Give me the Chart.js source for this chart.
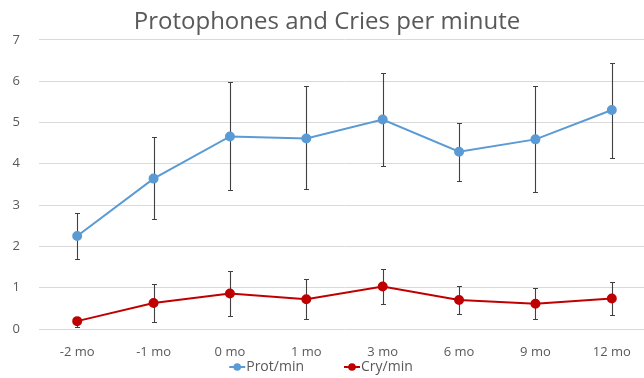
<!DOCTYPE html>
<html>
<head>
<meta charset="utf-8">
<script src="https://cdn.jsdelivr.net/npm/chart.js@4.4.1/dist/chart.umd.min.js"></script>
<style>
  html, body { margin: 0; padding: 0; background: #fff; overflow: hidden; }
  #wrap { width: 656px; height: 378px; position: relative; }
</style>
</head>
<body>
<div id="wrap"><canvas id="c"></canvas></div>
<script>
// Recording ages
const categories = ['-2 mo', '-1 mo', '0 mo', '1 mo', '3 mo', '6 mo', '9 mo', '12 mo'];

// Protophones per minute: mean and error-bar limits
const protMean  = [2.25, 3.64, 4.66, 4.61, 5.07, 4.29, 4.59, 5.30];
const protUpper = [2.81, 4.64, 5.97, 5.87, 6.19, 4.99, 5.87, 6.45];
const protLower = [1.69, 2.66, 3.36, 3.39, 3.95, 3.59, 3.32, 4.15];

// Cries per minute: mean and error-bar limits
const cryMean  = [0.19, 0.63, 0.86, 0.72, 1.03, 0.70, 0.61, 0.74];
const cryUpper = [0.30, 1.10, 1.40, 1.22, 1.45, 1.03, 0.99, 1.14];
const cryLower = [0.06, 0.17, 0.32, 0.23, 0.61, 0.37, 0.25, 0.35];

const yTicks = [0, 1, 2, 3, 4, 5, 6, 7];

const BLUE = '#5b9bd5';
const RED = '#c00000';
const TEXT = '#595959';
const FONT = "'Open Sans', 'Liberation Sans', sans-serif";

// Error bars drawn through the chart scales
const errorBars = {
  id: 'errorBars',
  beforeDatasetsDraw(chart) {
    const { ctx, scales: { x, y } } = chart;
    const sets = [[protUpper, protLower], [cryUpper, cryLower]];
    ctx.save();
    ctx.strokeStyle = '#404040';
    ctx.lineWidth = 1.1;
    sets.forEach(([up, lo]) => {
      up.forEach((u, i) => {
        const px = Math.round(x.getPixelForValue(i)) + 0.5;
        const pu = Math.round(y.getPixelForValue(u)) + 0.5;
        const pl = Math.round(y.getPixelForValue(lo[i])) + 0.5;
        ctx.beginPath();
        ctx.moveTo(px, pu); ctx.lineTo(px, pl);
        ctx.moveTo(px - 2.5, pu); ctx.lineTo(px + 2.5, pu);
        ctx.moveTo(px - 2.5, pl); ctx.lineTo(px + 2.5, pl);
        ctx.stroke();
      });
    });
    ctx.restore();
  }
};

// Bottom legend: line-with-marker icon followed by the series name
const lineLegend = {
  id: 'lineLegend',
  afterDraw(chart) {
    const { ctx } = chart;
    const items = chart.data.datasets.map(ds => ({ label: ds.label, color: ds.borderColor }));
    const iconW = 16, iconGap = 1, itemGap = 40, centerX = 321, midY = 367;
    ctx.save();
    ctx.font = `14px ${FONT}`;
    ctx.textBaseline = 'middle';
    ctx.textAlign = 'left';
    const widths = items.map(it => iconW + iconGap + ctx.measureText(it.label).width);
    const total = widths.reduce((a, b) => a + b, 0) + itemGap * (items.length - 1);
    let x = centerX - total / 2;
    items.forEach((it, i) => {
      ctx.strokeStyle = it.color;
      ctx.fillStyle = it.color;
      ctx.lineWidth = 2;
      ctx.beginPath();
      ctx.moveTo(x, midY); ctx.lineTo(x + iconW, midY);
      ctx.stroke();
      ctx.beginPath();
      ctx.arc(x + iconW / 2, midY, 3.8, 0, Math.PI * 2);
      ctx.fill();
      ctx.fillStyle = TEXT;
      ctx.fillText(it.label, x + iconW + iconGap, midY);
      x += widths[i] + itemGap;
    });
    ctx.restore();
  }
};

new Chart(document.getElementById('c'), {
  type: 'line',
  data: {
    labels: categories,
    datasets: [
      {
        label: 'Prot/min', data: protMean,
        borderColor: BLUE, backgroundColor: BLUE,
        borderWidth: 2, pointRadius: 4, pointHoverRadius: 4,
        pointStyle: 'circle', tension: 0
      },
      {
        label: 'Cry/min', data: cryMean,
        borderColor: RED, backgroundColor: RED,
        borderWidth: 2, pointRadius: 4, pointHoverRadius: 4,
        pointStyle: 'circle', tension: 0
      }
    ]
  },
  options: {
    responsive: true,
    maintainAspectRatio: false,
    animation: false,
    layout: { padding: { left: 1, right: 3, top: 0, bottom: 19 } },
    plugins: {
      title: {
        display: true,
        text: 'Protophones and Cries per minute',
        color: TEXT,
        font: { family: FONT, size: 24, weight: 'normal' },
        padding: { top: 8, bottom: 3 }
      },
      legend: { display: false },
      tooltip: { enabled: false }
    },
    scales: {
      x: {
        offset: true,
        grid: { display: false, drawTicks: false },
        border: { display: false },
        ticks: { color: TEXT, font: { family: FONT, size: 13 }, padding: 15 },
        afterFit(s) { s.height = 30; }
      },
      y: {
        min: 0, max: 7,
        grid: { color: '#d9d9d9', lineWidth: 1, drawTicks: false },
        border: { display: false },
        afterBuildTicks(s) { s.ticks = yTicks.map(v => ({ value: v })); },
        ticks: { color: TEXT, font: { family: FONT, size: 13 }, padding: 19 },
        afterFit(s) { s.width = 38; }
      }
    }
  },
  plugins: [errorBars, lineLegend]
});
</script>
</body>
</html>
